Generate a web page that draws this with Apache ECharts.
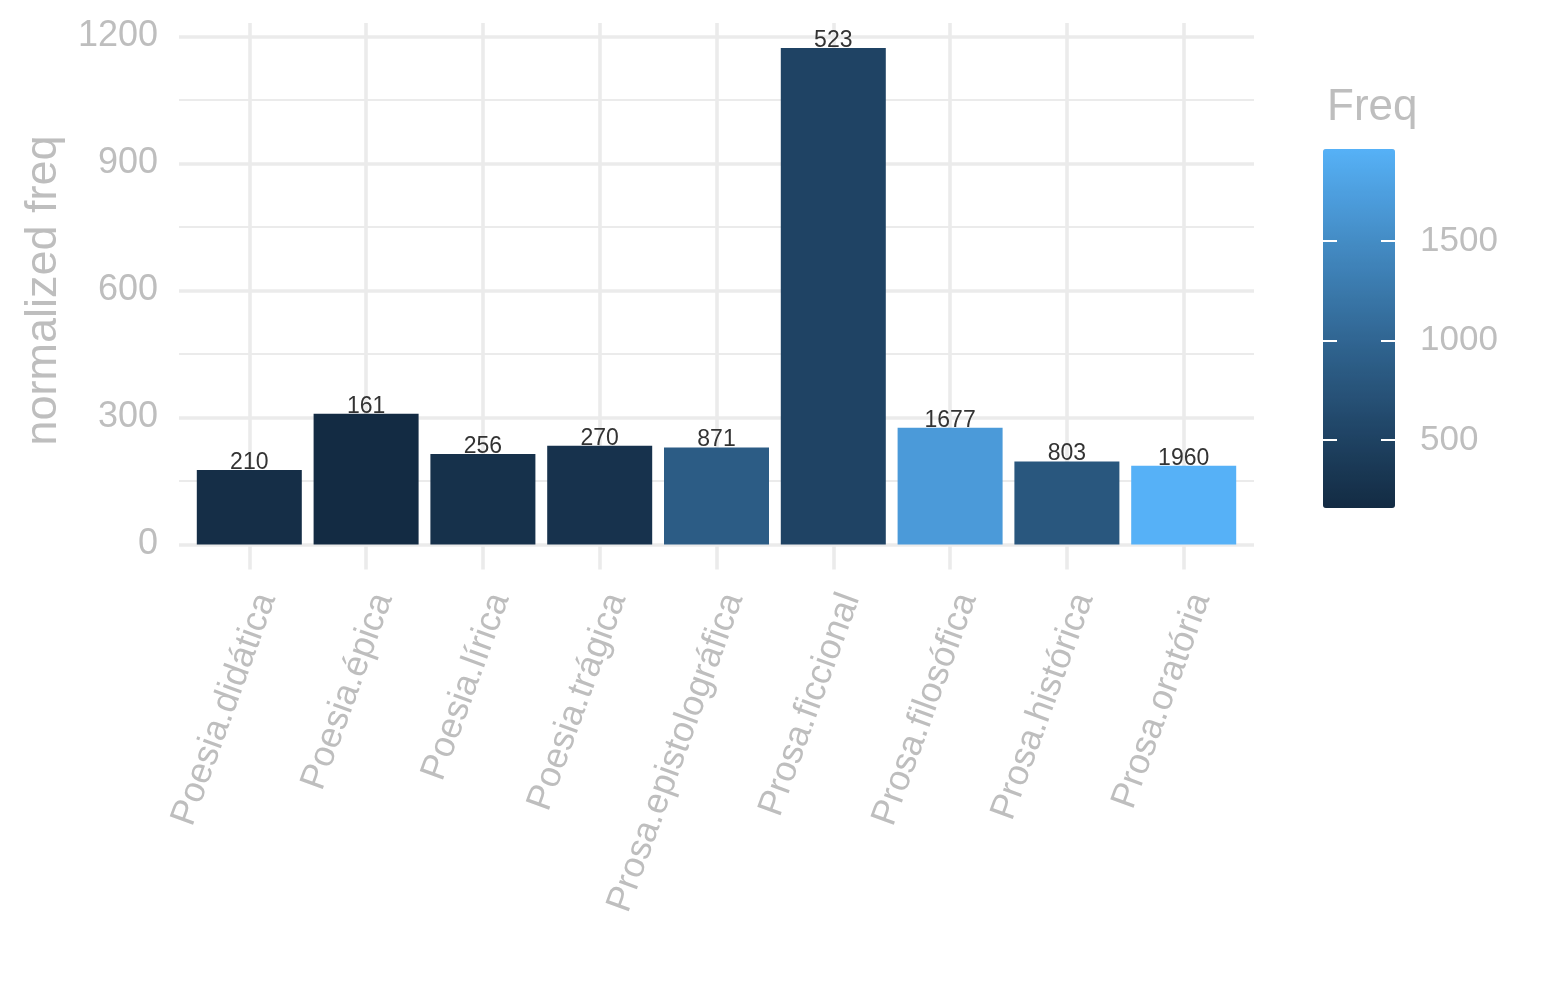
<!DOCTYPE html>
<html>
<head>
<meta charset="utf-8">
<script src="https://cdn.jsdelivr.net/npm/echarts@6/dist/echarts.min.js"></script>
<style>html,body{margin:0;padding:0;background:#fff;}#main{width:1545px;height:1000px;}</style>
</head>
<body>
<div id="main"></div>
<script>
// ---- data ----
const categories = ['Poesia.didática','Poesia.épica','Poesia.lírica','Poesia.trágica','Prosa.epistolográfica','Prosa.ficcional','Prosa.filosófica','Prosa.histórica','Prosa.oratória'];
const normFreq = [176, 309, 214, 233, 229, 1173, 276, 196, 186];
const freq = [210, 161, 256, 270, 871, 523, 1677, 803, 1960];
const yMin = 0, yMax = 1200, yStep = 300;
const legendMin = 0, legendMax = 2000, legendStep = 500;

// ---- Lab gradient (ggplot default continuous scale) ----
const lowCol = '#132B43', highCol = '#56B1F7';
const Xn = 0.95047, Yn = 1.0, Zn = 1.08883;
function hexToLab(hex) {
  const c = [1,3,5].map(i => parseInt(hex.slice(i, i+2), 16) / 255)
    .map(v => v <= 0.04045 ? v / 12.92 : Math.pow((v + 0.055) / 1.055, 2.4));
  const X = 0.4124*c[0] + 0.3576*c[1] + 0.1805*c[2];
  const Y = 0.2126*c[0] + 0.7152*c[1] + 0.0722*c[2];
  const Z = 0.0193*c[0] + 0.1192*c[1] + 0.9505*c[2];
  const f = t => t > 0.008856 ? Math.cbrt(t) : 7.787*t + 16/116;
  const fx = f(X/Xn), fy = f(Y/Yn), fz = f(Z/Zn);
  return [116*fy - 16, 500*(fx - fy), 200*(fy - fz)];
}
function labToHex(L, a, b) {
  const fy = (L + 16) / 116, fx = fy + a/500, fz = fy - b/200;
  const inv = t => t*t*t > 0.008856 ? t*t*t : (t - 16/116) / 7.787;
  const X = Xn*inv(fx), Y = Yn*inv(fy), Z = Zn*inv(fz);
  let r = 3.2406*X - 1.5372*Y - 0.4986*Z;
  let g = -0.9689*X + 1.8758*Y + 0.0415*Z;
  let bb = 0.0557*X - 0.2040*Y + 1.0570*Z;
  const gam = v => { v = v <= 0.0031308 ? 12.92*v : 1.055*Math.pow(v, 1/2.4) - 0.055; return Math.max(0, Math.min(255, Math.round(v*255))); };
  return '#' + [r, g, bb].map(v => gam(v).toString(16).padStart(2, '0')).join('');
}
const labLo = hexToLab(lowCol), labHi = hexToLab(highCol);
const gradStops = [];
for (let k = 0; k <= 20; k++) {
  const t = k / 20;
  gradStops.push(labToHex(labLo[0] + (labHi[0]-labLo[0])*t, labLo[1] + (labHi[1]-labLo[1])*t, labLo[2] + (labHi[2]-labLo[2])*t));
}

const textGrey = '#BEBEBE';
const gridGrey = '#EBEBEB';
const fontFam = '"Liberation Sans", Arial, Helvetica, sans-serif';

const chart = echarts.init(document.getElementById('main'));
const option = {
  backgroundColor: '#ffffff',
  animation: false,
  textStyle: { fontFamily: fontFam },
  title: {
    text: 'Freq', left: 1322, top: 81,
    textStyle: { fontSize: 44, fontWeight: 'normal', color: textGrey, fontFamily: fontFam }
  },
  grid: [
    { left: 179, width: 1075, top: 36.5, height: 508 },      // horizontal gridlines + y labels
    { left: 249.3, width: 934.4, top: 36.5, height: 508 },    // bars
    { left: 249.3, width: 934.4, top: 23, height: 546.5 },    // vertical gridlines + x labels
    { left: 1323, width: 72, top: 141.3, height: 398.4 }      // colorbar ticks
  ],
  xAxis: [
    { gridIndex: 0, type: 'value', min: 0, max: 1, show: false },
    { gridIndex: 1, type: 'value', min: 0, max: categories.length - 1, show: false },
    { gridIndex: 2, type: 'value', min: 0, max: categories.length - 1, interval: 1,
      axisLine: { show: false }, axisTick: { show: false },
      splitLine: { show: true, lineStyle: { color: gridGrey, width: 3.6 } },
      axisLabel: {
        rotate: 70, margin: 19, fontSize: 36, color: textGrey, fontFamily: fontFam,
        align: 'right', verticalAlign: 'top',
        formatter: v => categories[Math.round(v)]
      }
    },
    { gridIndex: 3, type: 'value', min: 0, max: 1, show: false }
  ],
  yAxis: [
    { gridIndex: 0, type: 'value', min: yMin, max: yMax, interval: yStep,
      name: 'normalized freq', nameLocation: 'middle', nameGap: 113,
      nameTextStyle: { fontSize: 45, color: textGrey, fontFamily: fontFam },
      axisLine: { show: false }, axisTick: { show: false },
      axisLabel: { fontSize: 36, color: textGrey, margin: 21, fontFamily: fontFam, formatter: v => String(v) },
      splitLine: { show: true, lineStyle: { color: gridGrey, width: 3.6 } },
      minorTick: { show: false, splitNumber: 2 },
      minorSplitLine: { show: true, lineStyle: { color: gridGrey, width: 1.8 } }
    },
    { gridIndex: 1, type: 'value', min: yMin, max: yMax, show: false },
    { gridIndex: 2, type: 'value', min: 0, max: 1, show: false },
    { gridIndex: 3, type: 'value', position: 'left', min: legendMin, max: legendMax, interval: legendStep, z: 10,
      axisLine: { show: false }, splitLine: { show: false }, axisLabel: { show: false },
      axisTick: { show: true, inside: true, length: 14, lineStyle: { color: '#ffffff', width: 2 } }
    },
    { gridIndex: 3, type: 'value', position: 'right', min: legendMin, max: legendMax, interval: legendStep, z: 10,
      axisLine: { show: false }, splitLine: { show: false },
      axisTick: { show: true, inside: true, length: 14, lineStyle: { color: '#ffffff', width: 2 } },
      axisLabel: { show: true, showMinLabel: false, showMaxLabel: false, margin: 25, fontSize: 35, color: textGrey, fontFamily: fontFam, formatter: v => String(v) }
    }
  ],
  visualMap: {
    type: 'continuous',
    min: Math.min(...freq), max: Math.max(...freq),
    dimension: 2, seriesIndex: 0,
    calculable: false, hoverLink: false,
    left: 1323, top: 149, itemWidth: 72, itemHeight: 359, padding: 0,
    inRange: { color: gradStops },
    text: null, showLabel: false
  },
  series: [{
    type: 'bar',
    xAxisIndex: 1, yAxisIndex: 1,
    barWidth: 105,
    clip: false,
    z: 3,
    encode: { x: 0, y: 1 },
    data: categories.map((c, i) => [i, normFreq[i], freq[i]]),
    label: {
      show: true, position: 'top', distance: -4,
      fontSize: 23, color: '#333333', fontFamily: fontFam,
      formatter: p => String(p.value[2])
    }
  }]
};
chart.setOption(option);
</script>
</body>
</html>
